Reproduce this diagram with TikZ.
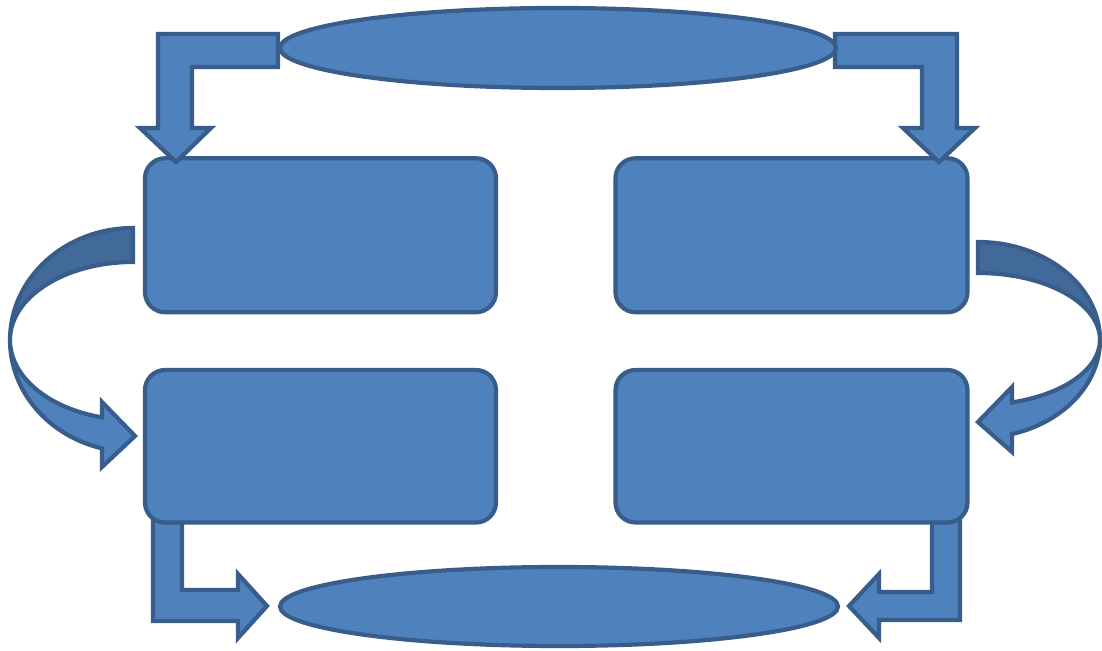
\documentclass[tikz,border=0pt]{standalone}
\usetikzlibrary{shapes.geometric}
\definecolor{fillblue}{HTML}{4F81BD}
\definecolor{lineblue}{HTML}{385D8A}
\definecolor{backblue}{HTML}{41699A}
\begin{document}
\begin{tikzpicture}[x=1pt,y=1pt,
  shapestyle/.style={fill=fillblue,draw=lineblue,line width=4.2pt},
  boxstyle/.style={shapestyle,rectangle,rounded corners=20pt,inner sep=0pt,minimum width=351pt,minimum height=154pt},
  ovalstyle/.style={shapestyle,ellipse,inner sep=0pt},
  blockarrow/.style={shapestyle,line join=miter,miter limit=10},
  backband/.style={blockarrow,fill=backblue}]
\useasboundingbox (0,0) rectangle (1102,650);

% bottom bent arrows (behind boxes)
\draw[blockarrow] (153,135) -- (153,29) -- (238,29) -- (238,12) -- (267,44) -- (238,76) -- (238,60) -- (182,60) -- (182,135) -- cycle;
\draw[blockarrow] (960,135) -- (960,30) -- (879,30) -- (879,12) -- (849,44) -- (879,76) -- (879,58) -- (932,58) -- (932,135) -- cycle;

% boxes
\node[boxstyle] (tl) at (320.5,414.75) {};
\node[boxstyle,minimum width=352pt] (tr) at (791.5,414.75) {};
\node[boxstyle,minimum height=152.5pt] (bl) at (320.5,203.75) {};
\node[boxstyle,minimum width=352pt,minimum height=152.5pt] (br) at (791.5,203.75) {};

% top bent arrows (over boxes)
\draw[blockarrow] (278,616) -- (158,616) -- (158,522) -- (140,522) -- (176,488) -- (211,522) -- (192,522) -- (192,583) -- (278,583) -- cycle;
\draw[blockarrow] (835,616) -- (957,616) -- (957,522) -- (975,522) -- (939,488) -- (903,522) -- (922,522) -- (922,583) -- (835,583) -- cycle;

% ellipses
\node[ovalstyle,minimum width=556pt,minimum height=80pt] (top) at (558,602) {};
\node[ovalstyle,minimum width=558pt,minimum height=79pt] (bottom) at (559,43.5) {};

% left curved arrow
\draw[backband] (133,422) arc[start angle=90,end angle=180,x radius=123,y radius=112]
  arc[start angle=180,end angle=90,x radius=123,y radius=78] -- cycle;
\draw[blockarrow] (10,310) arc[start angle=180,end angle=255.4,x radius=123,y radius=112]
  -- (102,183) -- (135,214) -- (102,248) -- (102,232.6)
  arc[start angle=255.4,end angle=180,x radius=123,y radius=80] -- cycle;

% right curved arrow
\draw[backband] (978,408) arc[start angle=90,end angle=0,x radius=122,y radius=98]
  arc[start angle=0,end angle=90,x radius=122,y radius=67] -- cycle;
\draw[blockarrow] (1100,310) arc[start angle=0,end angle=-73.8,x radius=122,y radius=98]
  -- (1012,198) -- (978,228) -- (1012,263) -- (1012,247.6)
  arc[start angle=-73.8,end angle=0,x radius=122,y radius=65] -- cycle;
\end{tikzpicture}
\end{document}
